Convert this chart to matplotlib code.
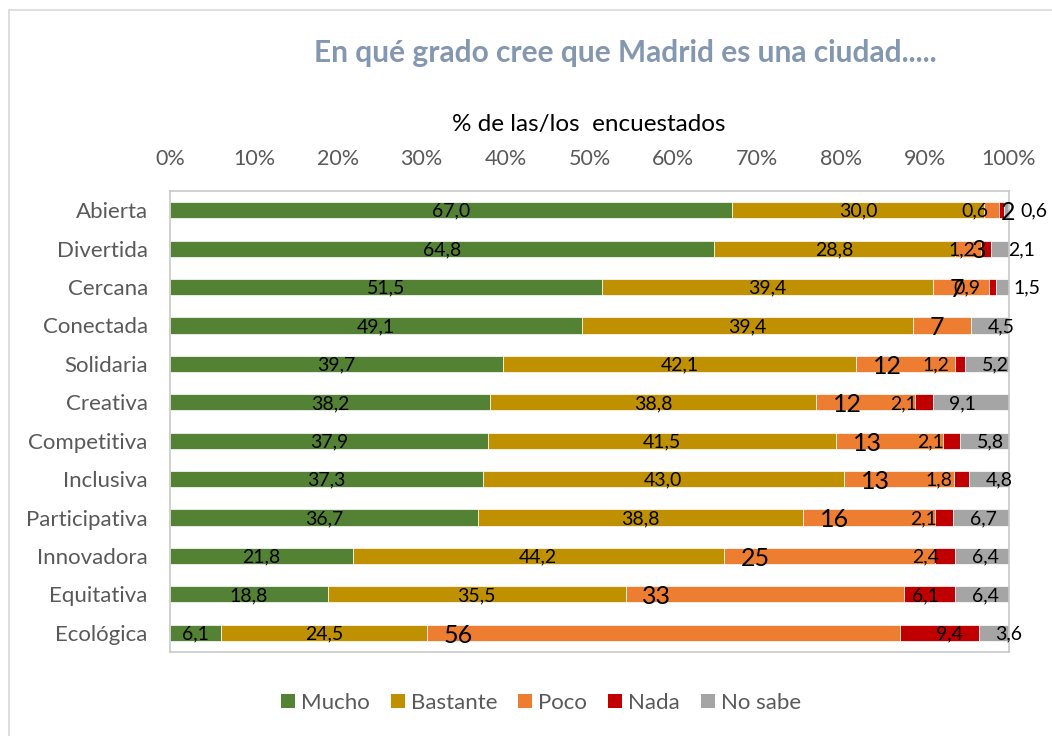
import matplotlib
matplotlib.use('Agg')
import matplotlib.pyplot as plt
from matplotlib.patches import Rectangle, Patch

plt.rcParams['font.family'] = ['Lato', 'DejaVu Sans']

# datos (% de las/los encuestados)
ciudades = ['Abierta', 'Divertida', 'Cercana', 'Conectada', 'Solidaria', 'Creativa',
            'Competitiva', 'Inclusiva', 'Participativa', 'Innovadora', 'Equitativa', 'Ecológica']
mucho = [67.0, 64.8, 51.5, 49.1, 39.7, 38.2, 37.9, 37.3, 36.7, 21.8, 18.8, 6.1]
bastante = [30.0, 28.8, 39.4, 39.4, 42.1, 38.8, 41.5, 43.0, 38.8, 44.2, 35.5, 24.5]
poco = [1.8, 3.1, 6.7, 7.0, 11.8, 11.8, 12.7, 13.1, 15.7, 25.2, 33.2, 56.4]
nada = [0.6, 1.2, 0.9, 0.0, 1.2, 2.1, 2.1, 1.8, 2.1, 2.4, 6.1, 9.4]
no_sabe = [0.6, 2.1, 1.5, 4.5, 5.2, 9.1, 5.8, 4.8, 6.7, 6.4, 6.4, 3.6]

series = ['Mucho', 'Bastante', 'Poco', 'Nada', 'No sabe']
colores = ['#548235', '#BF9000', '#ED7D31', '#C00000', '#A5A5A5']
ticks = [0, 10, 20, 30, 40, 50, 60, 70, 80, 90, 100]

W, H = 1052, 736
fig = plt.figure(figsize=(W / 100, H / 100), dpi=100)
ax = fig.add_axes([170 / W, 1 - 652 / H, (1009 - 170) / W, (652 - 191) / H])

# marco exterior del grafico
fig.patches.append(Rectangle((9 / W, -0.1), 1.2, (H - 10) / H + 0.1, transform=fig.transFigure,
                             facecolor='none', edgecolor='#D9D9D9', linewidth=1.2))


def fmt(v):
    return ('%.1f' % v).replace('.', ',')


y = list(range(len(ciudades)))
left = [0.0] * len(ciudades)
for nombre, vals, col in zip(series, [mucho, bastante, poco, nada, no_sabe], colores):
    ax.barh(y, vals, left=left, height=0.42, color=col, edgecolor='white', linewidth=0.5)
    for i, v in enumerate(vals):
        if v <= 0:
            continue
        x0 = left[i]
        if nombre in ('Mucho', 'Bastante'):
            ax.text(x0 + v / 2, i + 0.03, fmt(v), ha='center', va='center', fontsize=14)
        elif nombre == 'Poco':
            ax.text(x0 + 2.0, i + 0.06, '%d' % round(v), ha='left', va='center', fontsize=18)
        elif nombre == 'Nada':
            ax.text(x0 + v - 1.9, i + 0.03, fmt(v), ha='right', va='center', fontsize=14)
        else:
            ax.text(x0 + 2.0, i + 0.03, fmt(v), ha='left', va='center', fontsize=14)
    left = [a + b for a, b in zip(left, vals)]

ax.set_xlim(0, 100)
ax.set_ylim(len(ciudades) - 0.5, -0.5)
ax.set_yticks(y)
ax.set_yticklabels(ciudades)
ax.set_xticks(ticks)
ax.set_xticklabels(['%d%%' % t for t in ticks])
ax.xaxis.tick_top()
ax.tick_params(axis='x', length=0, pad=16, labelsize=15.5, labelcolor='#595959')
ax.tick_params(axis='y', length=0, pad=16, labelsize=16, labelcolor='#595959')
for s in ax.spines.values():
    s.set_color('#C8C8C8')
    s.set_linewidth(1.2)

fig.text(625 / W, 1 - 53 / H, 'En qué grado cree que Madrid es una ciudad.....', ha='center', va='center',
         fontsize=21.5, fontweight='bold', color='#8497B0')
fig.text(589 / W, 1 - 125 / H, '% de las/los  encuestados', ha='center', va='center', fontsize=17.5)

handles = [Patch(facecolor=c, edgecolor='none') for c in colores]
fig.legend(handles, series, loc='center', bbox_to_anchor=(541 / W, 1 - 703 / H), ncol=5, frameon=False,
           fontsize=16, labelcolor='#595959', handlelength=0.63, handleheight=0.63,
           handletextpad=0.27, columnspacing=0.95)

fig.savefig('out.png', dpi=100)
